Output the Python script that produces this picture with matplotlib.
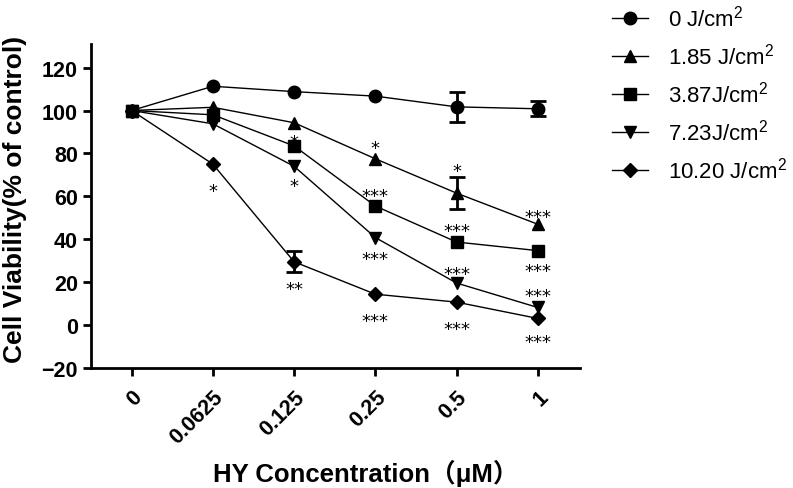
import numpy as np
import matplotlib
matplotlib.use("Agg")
import matplotlib.pyplot as plt

plt.rcParams['font.family'] = ['Liberation Sans', 'Noto Sans CJK SC']
plt.rcParams['mathtext.fontset'] = 'custom'
plt.rcParams['mathtext.rm'] = 'Liberation Sans'
plt.rcParams['mathtext.it'] = 'Liberation Sans:italic'
plt.rcParams['mathtext.bf'] = 'Liberation Sans:bold'

# data
concentrations = ['0', '0.0625', '0.125', '0.25', '0.5', '1']
labels = ['0 J/cm$^2$', '1.85 J/cm$^2$', '3.87J/cm$^2$', '7.23J/cm$^2$', '10.20 J/cm$^2$']

v_0 = [100, 111.3, 108.8, 106.7, 101.7, 100.8]
v_185 = [100, 101.5, 94.3, 77.5, 61.5, 47.0]
v_387 = [100, 98.0, 83.5, 55.5, 38.7, 34.7]
v_723 = [100, 93.8, 74.0, 40.8, 19.6, 8.2]
v_1020 = [100, 75.0, 29.5, 14.4, 10.7, 3.1]

e_0 = [0, 0, 0, 0, 7.0, 3.5]
e_185 = [0, 0, 0, 0, 7.4, 0]
e_387 = [0, 0, 0, 0, 0, 0]
e_723 = [0, 0, 0, 0, 0, 0]
e_1020 = [0, 0, 4.8, 0, 0, 0]

sig_0 = ['', '', '', '', '', '']
sig_185 = ['', '', '*', '*', '*', '***']
sig_387 = ['', '', '', '***', '***', '***']
sig_723 = ['', '', '*', '***', '***', '***']
sig_1020 = ['', '*', '**', '***', '***', '***']

values = [v_0, v_185, v_387, v_723, v_1020]
errors = [e_0, e_185, e_387, e_723, e_1020]
sigs = [sig_0, sig_185, sig_387, sig_723, sig_1020]

# layout: vertical offset (points) of each star label's centre from its point
sig_offsets = [
    [0, 0, 0, 0, 0, 0],
    [0, 0, -9.7, 11.5, 20, 9.4],
    [0, 0, 0, 11.5, 12.2, -10.8],
    [0, 0, -10, -11.5, 10.8, 12.2],
    [0, -15.5, -15.5, -15.5, -15.5, -12.6],
]
markers = ['o', '^', 's', 'v', 'D']
msizes = [9, 9, 9, 9, 7.5]
star_size = 13

fig = plt.figure(figsize=(7.93, 4.89), dpi=100)
ax = fig.add_axes([0.1148, 0.2454, 0.6166, 0.6626])

x = np.arange(len(concentrations))
for vals, errs, sig, offs, mk, ms, lab in zip(values, errors, sigs, sig_offsets, markers, msizes, labels):
    vals = np.array(vals)
    errs = np.array(errs)
    ax.plot(x, vals, color='black', lw=1.0, marker=mk, ms=ms, mfc='black', mec='black', label=lab, zorder=3)
    m = errs > 0
    if m.any():
        ax.errorbar(x[m], vals[m], yerr=errs[m], fmt='none', ecolor='black', elinewidth=2.0,
                    capsize=5.5, capthick=2.0, zorder=2)
    for xi, (yv, s, o) in enumerate(zip(vals, sig, offs)):
        if s:
            # asterisk ink sits ~0.59 em above the baseline
            ax.annotate(s, (xi, yv), xytext=(0, o - 0.59 * star_size), textcoords='offset points',
                        ha='center', va='baseline', fontsize=star_size, family='DejaVu Sans')

ax.set_xlim(-0.5, 5.52)
ax.set_ylim(-20, 131)
ax.set_yticks(np.arange(-20, 121, 20))
ax.set_xticks(x)
ax.set_xticklabels(concentrations, rotation=45, ha='right', rotation_mode='anchor')

for sp in ['top', 'right']:
    ax.spines[sp].set_visible(False)
for sp in ['left', 'bottom']:
    ax.spines[sp].set_linewidth(2.0)

ax.tick_params(axis='both', direction='out', length=6, width=2.0, labelsize=15.5)
ax.tick_params(axis='x', pad=7)
for t in ax.get_xticklabels() + ax.get_yticklabels():
    t.set_fontweight('bold')

ax.set_ylabel('Cell Viability(% of control)', fontsize=19, fontweight='bold')
ax.yaxis.set_label_coords(-0.13, 0.522)
ax.set_xlabel('HY Concentration（μM）', fontsize=18.5, fontweight='bold')
ax.xaxis.set_label_coords(0.562, -0.28)

fig.legend(loc='upper left', bbox_to_anchor=(0.772, 0.989), frameon=False, fontsize=16,
           handlelength=1.6, handletextpad=0.9, labelspacing=0.55,
           borderpad=0, borderaxespad=0)

fig.savefig('out.png', dpi=100)
